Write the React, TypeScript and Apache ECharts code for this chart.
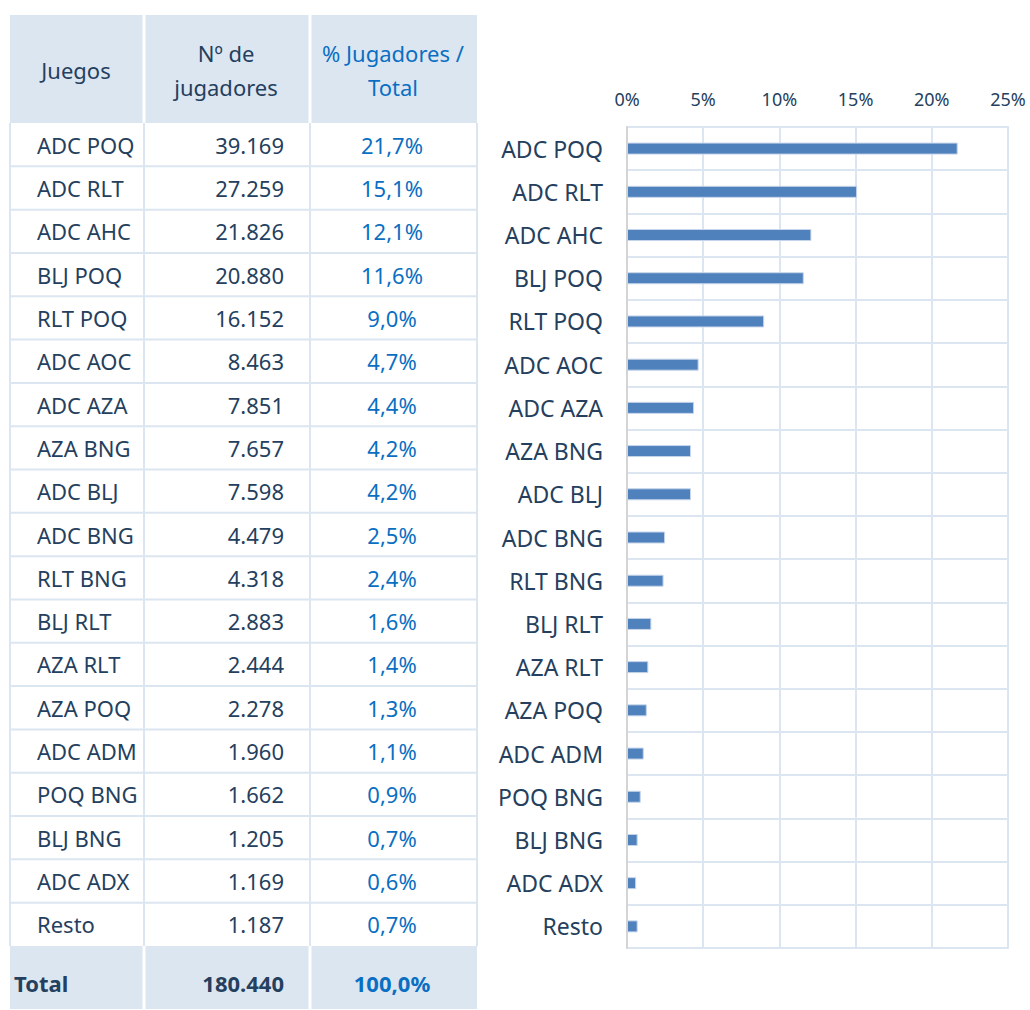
import React, { useEffect, useRef } from "react";
import * as echarts from "echarts";

const games = ["ADC POQ","ADC RLT","ADC AHC","BLJ POQ","RLT POQ","ADC AOC","ADC AZA","AZA BNG","ADC BLJ","ADC BNG","RLT BNG","BLJ RLT","AZA RLT","AZA POQ","ADC ADM","POQ BNG","BLJ BNG","ADC ADX","Resto"];
const players = ["39.169","27.259","21.826","20.880","16.152","8.463","7.851","7.657","7.598","4.479","4.318","2.883","2.444","2.278","1.960","1.662","1.205","1.169","1.187"];
const pctLabels = ["21,7%","15,1%","12,1%","11,6%","9,0%","4,7%","4,4%","4,2%","4,2%","2,5%","2,4%","1,6%","1,4%","1,3%","1,1%","0,9%","0,7%","0,6%","0,7%"];
const pctValues = [21.7,15.1,12.1,11.6,9.0,4.7,4.4,4.2,4.2,2.5,2.4,1.6,1.4,1.3,1.1,0.9,0.7,0.6,0.7];
const totalLabels = ["Total","180.440","100,0%"];
const headerJuegos = "Juegos";
const headerPlayers = "Nº de\njugadores";
const headerPct = "% Jugadores /\nTotal";

const FONT = "'Noto Sans', 'Open Sans', sans-serif";
const DARK = "#253f5e";
const BLUE = "#0a6fc2";
const HEAD_BG = "#dce6f1";
const LINE = "#dce6f1";

export default function App() {
  const ref = useRef<HTMLDivElement>(null);
  useEffect(() => {
    const chart = echarts.init(ref.current!, null, { renderer: "svg" });

    const tX0 = 10, tX1 = 144, tX2 = 310, tX3 = 477;
    const headTop = 15, headBot = 123;
    const rowH = (946 - 123) / games.length;
    const totTop = 946, totBot = 1009;
    const TF = 22;

    const g: any[] = [];
    g.push({ type: "rect", shape: { x: tX0, y: headTop, width: tX3 - tX0, height: headBot - headTop }, style: { fill: HEAD_BG }, silent: true });
    g.push({ type: "rect", shape: { x: tX0, y: totTop, width: tX3 - tX0, height: totBot - totTop }, style: { fill: HEAD_BG }, silent: true });
    [tX1, tX2].forEach((x) => {
      g.push({ type: "line", shape: { x1: x, y1: headTop, x2: x, y2: headBot }, style: { stroke: "#ffffff", lineWidth: 3 }, silent: true });
      g.push({ type: "line", shape: { x1: x, y1: totTop, x2: x, y2: totBot }, style: { stroke: "#ffffff", lineWidth: 3 }, silent: true });
    });
    [tX0, tX1, tX2, tX3].forEach((x) => {
      g.push({ type: "line", shape: { x1: x, y1: headBot, x2: x, y2: totTop }, style: { stroke: LINE, lineWidth: 2 }, silent: true });
    });
    for (let i = 1; i < games.length; i++) {
      const y = headBot + i * rowH;
      g.push({ type: "line", shape: { x1: tX0, y1: y, x2: tX3, y2: y }, style: { stroke: LINE, lineWidth: 2 }, silent: true });
    }
    g.push({ type: "text", x: 76, y: 70, style: { text: headerJuegos, font: `${TF}px ${FONT}`, fill: DARK, align: "center", verticalAlign: "middle" }, silent: true });
    g.push({ type: "text", x: 226, y: 70, style: { text: headerPlayers, font: `${TF}px ${FONT}`, fill: DARK, align: "center", verticalAlign: "middle", lineHeight: 34 }, silent: true });
    g.push({ type: "text", x: 393, y: 70, style: { text: headerPct, font: `${TF}px ${FONT}`, fill: BLUE, align: "center", verticalAlign: "middle", lineHeight: 34 }, silent: true });
    games.forEach((name, i) => {
      const cy = headBot + i * rowH + rowH / 2;
      g.push({ type: "text", x: 37, y: cy, style: { text: name, font: `${TF}px ${FONT}`, fill: DARK, align: "left", verticalAlign: "middle" }, silent: true });
      g.push({ type: "text", x: 284, y: cy, style: { text: players[i], font: `${TF}px ${FONT}`, fill: DARK, align: "right", verticalAlign: "middle" }, silent: true });
      g.push({ type: "text", x: 392, y: cy, style: { text: pctLabels[i], font: `${TF}px ${FONT}`, fill: BLUE, align: "center", verticalAlign: "middle" }, silent: true });
    });
    const ty = 983;
    g.push({ type: "text", x: 14, y: ty, style: { text: totalLabels[0], font: `bold ${TF}px ${FONT}`, fill: DARK, align: "left", verticalAlign: "middle" }, silent: true });
    g.push({ type: "text", x: 284, y: ty, style: { text: totalLabels[1], font: `bold ${TF}px ${FONT}`, fill: DARK, align: "right", verticalAlign: "middle" }, silent: true });
    g.push({ type: "text", x: 392, y: ty, style: { text: totalLabels[2], font: `bold ${TF}px ${FONT}`, fill: BLUE, align: "center", verticalAlign: "middle" }, silent: true });

    chart.setOption({
      animation: false,
      backgroundColor: "#ffffff",
      textStyle: { fontFamily: FONT },
      grid: { left: 627, top: 127, width: 381, height: 821, show: true, borderColor: LINE, borderWidth: 2 },
      xAxis: {
        type: "value",
        position: "top",
        min: 0,
        max: 25,
        interval: 5,
        axisLine: { show: false },
        axisTick: { show: false },
        axisLabel: { formatter: (v: number) => `${v}%`, color: DARK, fontSize: 18, margin: 19, fontFamily: FONT },
        splitLine: { show: true, lineStyle: { color: LINE, width: 2 } },
      },
      yAxis: {
        type: "category",
        data: games,
        inverse: true,
        axisLine: { show: true, lineStyle: { color: "#d4d4d4", width: 2 } },
        axisTick: { show: false },
        splitLine: { show: true, lineStyle: { color: LINE, width: 2 } },
        axisLabel: { color: DARK, fontSize: 23, margin: 24, fontFamily: FONT },
      },
      series: [
        {
          type: "bar",
          data: pctValues,
          barWidth: 12,
          itemStyle: { color: "#4f81bd", borderColor: "#c6d5ea", borderWidth: 1 },
        },
      ],
      graphic: g,
    });
    return () => chart.dispose();
  }, []);
  return <div ref={ref} style={{ position: "absolute", left: 0, top: 0, width: 1030, height: 1010 }} />;
}
